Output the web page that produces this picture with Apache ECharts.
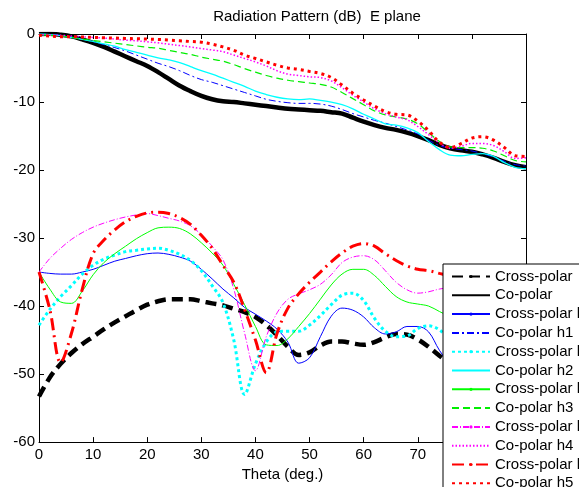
<!DOCTYPE html>
<html><head><meta charset="utf-8">
<script src="https://cdn.jsdelivr.net/npm/echarts@6/dist/echarts.min.js"></script>
<style>html,body{margin:0;padding:0;background:#fff}#c{width:579px;height:487px}</style>
</head><body><div id="c"></div>
<script>
// angle grid (deg)
const theta = [0,2,4,6,8,10,12,14,16,18,20,22,24,26,28,30,32,34,36,38,40,42,44,46,48,50,52,54,56,58,60,62,64,66,68,70,72,74,76,78,80,82,84,86,88,90];
const xTicks = [0,10,20,30,40,50,60,70,80,90];
const yTicks = [-60,-50,-40,-30,-20,-10,0];
const seriesNames = ['Cross-polar','Co-polar','Cross-polar h1','Co-polar h1','Cross-polar h2','Co-polar h2','Cross-polar h3','Co-polar h3','Cross-polar h4','Co-polar h4','Cross-polar h5','Co-polar h5'];

// lower curves (0..80 deg)
const crossPolar   = [-53.3,-50.5,-48.5,-46.9,-45.6,-44.5,-43.4,-42.4,-41.5,-40.6,-39.8,-39.3,-39.0,-39.0,-39.0,-39.3,-39.6,-39.9,-40.4,-40.9,-41.6,-42.8,-44.3,-46.0,-47.2,-46.8,-45.8,-45.2,-45.2,-45.5,-45.7,-45.3,-44.6,-44.1,-44.2,-44.9,-46.0,-47.3,-48.5,-49.5,-50.3];
const crossPolarH1 = [-35.0,-35.2,-35.3,-35.3,-35.0,-34.6,-34.0,-33.4,-33.0,-32.6,-32.3,-32.2,-32.4,-32.8,-33.4,-34.6,-36.0,-37.5,-38.8,-40.2,-41.2,-42.2,-43.4,-45.3,-48.4,-47.6,-44.5,-41.5,-40.3,-40.6,-41.6,-43.2,-44.1,-43.8,-43.0,-43.0,-43.8,-46.5,-48.5,-49.5,-50.0];
const crossPolarH2 = [-42.8,-40.5,-38.6,-37.0,-35.3,-34.0,-33.1,-32.5,-32.0,-31.8,-31.6,-31.5,-31.8,-32.4,-33.3,-34.8,-37.0,-39.5,-45.0,-53.0,-48.5,-45.3,-43.8,-43.7,-43.7,-42.8,-41.4,-39.8,-38.4,-38.1,-39.2,-41.8,-43.7,-44.5,-44.4,-43.3,-42.9,-43.5,-45.0,-46.0,-47.0];
const crossPolarH3 = [-35.0,-37.5,-39.4,-39.6,-37.8,-35.4,-33.6,-32.3,-31.2,-30.1,-29.2,-28.5,-28.4,-28.6,-29.4,-30.7,-32.2,-34.0,-36.8,-39.8,-43.0,-45.7,-45.8,-44.8,-43.0,-41.1,-39.0,-36.9,-35.3,-34.6,-34.6,-35.5,-37.1,-38.6,-39.4,-39.7,-40.0,-40.8,-41.6,-42.5,-43.5];
const crossPolarH4 = [-35.0,-33.0,-31.5,-30.2,-29.2,-28.4,-27.8,-27.3,-26.9,-26.6,-26.4,-26.7,-27.1,-27.5,-28.2,-29.5,-31.2,-33.2,-37.5,-44.0,-49.5,-44.5,-41.0,-39.0,-38.2,-37.6,-36.8,-35.4,-33.6,-32.8,-32.6,-33.2,-34.8,-36.5,-37.6,-38.1,-37.9,-37.5,-37.3,-37.3,-37.5];
const crossPolarH5 = [-35.0,-40.5,-48.3,-44.0,-37.5,-32.3,-30.3,-28.8,-27.6,-26.8,-26.3,-26.2,-26.4,-27.0,-28.0,-29.6,-31.5,-34.0,-36.5,-40.5,-45.0,-49.8,-44.0,-40.3,-38.2,-36.5,-35.0,-33.5,-32.2,-31.2,-30.8,-31.2,-32.3,-33.3,-34.1,-34.6,-34.8,-35.2,-35.6,-36.0,-36.5];

// upper curves (0..90 deg)
const coPolar   = [0.0,0.05,-0.1,-0.35,-0.8,-1.3,-1.9,-2.6,-3.3,-4.0,-4.7,-5.6,-6.6,-7.6,-8.4,-9.1,-9.6,-9.9,-10.0,-10.2,-10.4,-10.6,-10.8,-11.0,-11.1,-11.2,-11.3,-11.5,-11.7,-12.3,-12.9,-13.4,-13.8,-14.1,-14.5,-15.0,-15.6,-16.3,-16.8,-17.1,-17.3,-17.7,-18.2,-18.8,-19.3,-19.6];
const coPolarH1 = [0.0,-0.05,-0.2,-0.45,-0.75,-1.15,-1.55,-2.0,-2.5,-3.1,-3.7,-4.3,-4.8,-5.4,-6.1,-6.7,-7.1,-7.6,-8.1,-8.6,-9.1,-9.6,-9.9,-10.1,-10.2,-10.2,-10.3,-10.6,-11.1,-11.7,-12.2,-12.7,-13.1,-13.6,-14.1,-14.7,-15.6,-16.4,-16.8,-17.0,-17.2,-17.6,-18.1,-18.7,-19.2,-19.4];
const coPolarH2 = [0.0,-0.1,-0.25,-0.5,-0.8,-1.1,-1.45,-1.8,-2.3,-2.7,-3.1,-3.5,-3.8,-4.2,-4.8,-5.4,-5.9,-6.5,-7.1,-7.7,-8.4,-8.9,-9.3,-9.55,-9.65,-9.55,-9.75,-10.0,-10.4,-11.0,-11.8,-12.5,-13.2,-13.4,-13.8,-14.5,-15.8,-17.0,-17.8,-17.9,-17.7,-17.6,-18.0,-18.9,-19.6,-19.8];
const coPolarH3 = [-0.1,-0.2,-0.3,-0.5,-0.75,-0.95,-1.15,-1.35,-1.55,-1.75,-1.95,-2.1,-2.4,-2.7,-3.0,-3.4,-3.7,-4.0,-4.5,-5.1,-5.6,-6.1,-6.5,-6.8,-7.0,-7.2,-7.4,-7.8,-8.6,-9.5,-10.4,-11.3,-11.9,-12.2,-12.5,-13.2,-14.5,-15.8,-16.6,-16.7,-16.7,-16.8,-17.2,-17.9,-18.6,-18.8];
const coPolarH4 = [-0.1,-0.15,-0.2,-0.3,-0.4,-0.5,-0.6,-0.75,-0.9,-1.0,-1.15,-1.3,-1.5,-1.7,-1.9,-2.15,-2.35,-2.6,-3.1,-3.6,-4.1,-4.7,-5.4,-5.9,-6.1,-6.3,-6.4,-6.9,-7.9,-9.0,-10.0,-11.0,-11.7,-12.2,-12.6,-13.6,-14.8,-16.0,-16.8,-16.5,-16.1,-16.1,-16.4,-17.3,-18.3,-18.2];
const coPolarH5 = [-0.2,-0.3,-0.4,-0.4,-0.45,-0.5,-0.55,-0.6,-0.65,-0.7,-0.75,-0.8,-0.9,-1.0,-1.1,-1.2,-1.5,-1.9,-2.4,-3.1,-3.6,-4.1,-4.6,-5.0,-5.2,-5.5,-5.8,-6.4,-7.5,-8.7,-9.7,-10.6,-11.4,-11.8,-11.9,-12.8,-14.2,-15.9,-16.7,-16.1,-15.3,-15.1,-15.6,-16.7,-17.9,-18.0];

const FONT = "'Liberation Sans', Arial, sans-serif";
function pairs(v){ return v.map((y,i)=>[theta[i], y]); }
const hasMarker = {};
function mk(name, vals, color, width, type, marker){
  hasMarker[name] = marker;
  return {
    name, type:'line', data: pairs(vals), smooth: 0.35,
    symbol: 'circle', symbolSize: 4, showSymbol: false,
    lineStyle: {color, width, type, cap: 'butt'},
    itemStyle: {color},
    emphasis: {disabled: true}, animation: false
  };
}
const series = [
  mk(seriesNames[0], crossPolar, '#000000', 4.5, [11,6], true),
  mk(seriesNames[1], coPolar, '#000000', 4.5, 'solid', false),
  mk(seriesNames[2], crossPolarH1, '#0000ff', 1, 'solid', true),
  mk(seriesNames[3], coPolarH1, '#0000ff', 1, [7,3,2,3], false),
  mk(seriesNames[4], crossPolarH2, '#00ffff', 3, [3,3], true),
  mk(seriesNames[5], coPolarH2, '#00ffff', 1.3, 'solid', false),
  mk(seriesNames[6], crossPolarH3, '#00ff00', 1, 'solid', true),
  mk(seriesNames[7], coPolarH3, '#00ee00', 1.2, [7,4], false),
  mk(seriesNames[8], crossPolarH4, '#ff00ff', 1, [6,2,1,2], true),
  mk(seriesNames[9], coPolarH4, '#ff00ff', 1.5, [1.5,2], false),
  mk(seriesNames[10], crossPolarH5, '#ff0000', 3, [12,5,2,5], true),
  mk(seriesNames[11], coPolarH5, '#ff0000', 3, [3,4], false)
];

const chart = echarts.init(document.getElementById('c'), null, {renderer:'canvas'});
const axisBase = {
  axisLine: {show:true, onZero:false, lineStyle:{color:'#000', width:1}},
  axisTick: {show:true, inside:true, length:5, lineStyle:{color:'#000'}},
  splitLine: {show:false}
};
chart.setOption({
  animation: false,
  backgroundColor: '#fff',
  textStyle: {fontFamily: FONT},
  title: {
    text: 'Radiation Pattern (dB)  E plane', left: 312, top: 4, textAlign: 'center',
    textStyle: {fontFamily: FONT, fontSize: 15, fontWeight: 'normal', color: '#000'}
  },
  grid: {left: 39, right: 53, top: 34, bottom: 44, containLabel: false},
  xAxis: [
    Object.assign({type:'value', position:'bottom', min: xTicks[0], max: xTicks[xTicks.length-1], interval: 10,
      axisLabel: {color:'#000', fontSize: 15, fontFamily: FONT, margin: 5},
      name: 'Theta (deg.)', nameLocation: 'middle', nameGap: 24,
      nameTextStyle: {color:'#000', fontSize: 15, fontFamily: FONT}}, axisBase),
    Object.assign({type:'value', position:'top', min: xTicks[0], max: xTicks[xTicks.length-1], interval: 10,
      axisLabel: {show:false}}, axisBase)
  ],
  yAxis: [
    Object.assign({type:'value', position:'left', min: yTicks[0], max: yTicks[yTicks.length-1], interval: 10,
      axisLabel: {color:'#000', fontSize: 15, fontFamily: FONT, margin: 4}}, axisBase),
    Object.assign({type:'value', position:'right', min: yTicks[0], max: yTicks[yTicks.length-1], interval: 10,
      axisLabel: {show:false}}, axisBase)
  ],
  legend: {
    data: seriesNames.map(n => hasMarker[n] ? {name: n} : {name: n, itemStyle: {opacity: 0}}),
    orient: 'vertical', left: 443, top: 264, height: 300,
    padding: [5, 6, 4, 8], itemGap: 3.8, itemWidth: 38, itemHeight: 4,
    backgroundColor: '#fff', borderColor: '#000', borderWidth: 1, borderRadius: 0,
    selectedMode: false, z: 10,
    textStyle: {color:'#000', fontSize: 15, fontFamily: FONT}
  },
  series: series
});
</script></body></html>
